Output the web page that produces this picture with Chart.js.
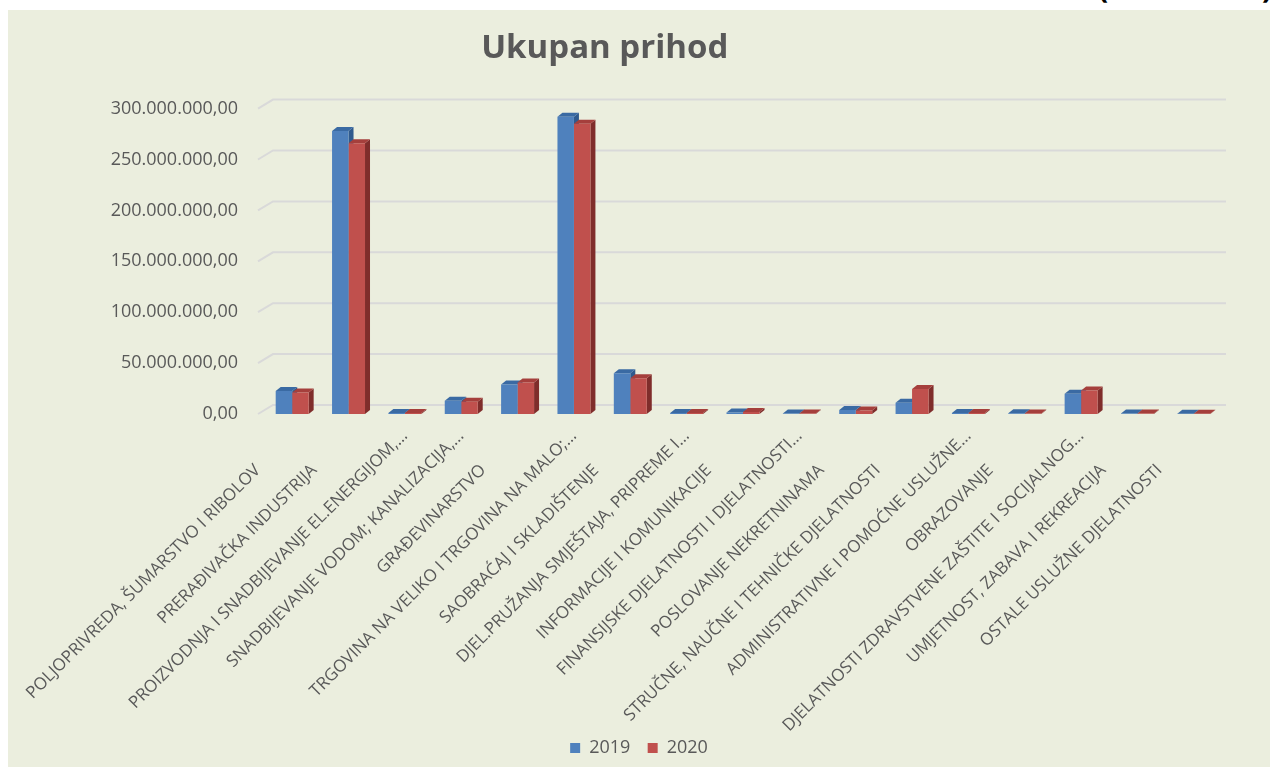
<!DOCTYPE html>
<html>
<head>
<meta charset="utf-8">
<script src="https://cdn.jsdelivr.net/npm/chart.js@4"></script>
<style>
  html,body{margin:0;padding:0;background:#ffffff;width:1270px;height:767px;overflow:hidden;}
  #topnote{position:absolute;top:-34px;left:1098px;width:180px;font:bold 30px "Open Sans",sans-serif;color:#000;z-index:0;}
  #topnote span.r{position:absolute;left:164px;}
  #wrap{position:absolute;left:8px;top:10px;width:1262px;height:757px;background:#EBEEDE;z-index:1;}
</style>
</head>
<body>
<div id="topnote"><span>(</span><span class="r">)</span></div>
<div id="wrap"><canvas id="c"></canvas></div>
<script>
const categories = [
  "POLJOPRIVREDA, ŠUMARSTVO I RIBOLOV",
  "PRERAĐIVAČKA INDUSTRIJA",
  "PROIZVODNJA I SNADBIJEVANJE EL.ENERGIJOM,…",
  "SNADBIJEVANJE VODOM; KANALIZACIJA,…",
  "GRAĐEVINARSTVO",
  "TRGOVINA NA VELIKO I TRGOVINA NA MALO;…",
  "SAOBRAĆAJ I SKLADIŠTENJE",
  "DJEL.PRUŽANJA SMJEŠTAJA, PRIPREME I…",
  "INFORMACIJE I KOMUNIKACIJE",
  "FINANSIJSKE DJELATNOSTI I DJELATNOSTI…",
  "POSLOVANJE NEKRETNINAMA",
  "STRUČNE, NAUČNE I TEHNIČKE DJELATNOSTI",
  "ADMINISTRATIVNE I POMOĆNE USLUŽNE…",
  "OBRAZOVANJE",
  "DJELATNOSTI ZDRAVSTVENE ZAŠTITE I SOCIJALNOG…",
  "UMJETNOST, ZABAVA I REKREACIJA",
  "OSTALE USLUŽNE DJELATNOSTI"
];
const values2019 = [22500000, 278000000, 1000000, 13000000, 29000000, 292000000, 40000000, 1000000, 1500000, 500000, 4000000, 11000000, 1000000, 800000, 20000000, 500000, 300000];
const values2020 = [21000000, 266000000, 1000000, 12000000, 31000000, 285000000, 35000000, 1000000, 2000000, 500000, 3500000, 24500000, 1000000, 600000, 23000000, 500000, 300000];
const seriesNames = ["2019", "2020"];
const yTicks = [0, 50000000, 100000000, 150000000, 200000000, 250000000, 300000000];
const titleText = "Ukupan prihod";

const TXT = '#595959';
const FRONT = ['#4F81BD', '#C0504D'];
const TOP = ['#3A6AA3', '#A53F3C'];
const SIDE = ['#2F5A8E', '#7F2D2B'];
const XFONT = {family: 'Open Sans', size: 17};
const TFONT = {family: 'Open Sans', size: 33, weight: 'bold'};
const LFONT = {family: 'Open Sans', size: 18};

function fmt(v){
  const s = Math.round(v).toString();
  const g = s.replace(/\B(?=(\d{3})+(?!\d))/g, '.');
  return g + ',00';
}

// run-time measured spacing helpers (Excel-like label placement)
const mctx = document.createElement('canvas').getContext('2d');
function spaces(px, font){ mctx.font = font; const w = mctx.measureText(' ').width || 4.5; return ' '.repeat(Math.max(0, Math.round(px / w))); }
const labelPad = spaces(48, XFONT.size + 'px "Open Sans"');
const titlePad = spaces(66, 'bold ' + TFONT.size + 'px "Open Sans"');
const legendPad = spaces(9, LFONT.size + 'px "Open Sans"');

const bar3d = {
  id: 'bar3d',
  beforeDatasetsDraw(chart){
    const ctx = chart.ctx, a = chart.chartArea, ys = chart.scales.y;
    ctx.save();
    ctx.strokeStyle = '#D9D9D9';
    ctx.lineWidth = 2;
    ys.ticks.forEach(t => {
      const y = ys.getPixelForValue(t.value);
      ctx.beginPath();
      ctx.moveTo(a.left - 6, y);
      ctx.lineTo(a.left + 9, y - 9);
      ctx.lineTo(a.right + 4, y - 9);
      ctx.stroke();
    });
    const dx = 5, dy = 4;
    chart.data.datasets.forEach((ds, i) => {
      const meta = chart.getDatasetMeta(i);
      meta.data.forEach(el => {
        const l = el.x - el.width/2, r = el.x + el.width/2, y = el.y, b = el.base;
        ctx.fillStyle = SIDE[i];
        ctx.beginPath();
        ctx.moveTo(r, y); ctx.lineTo(r+dx, y-dy); ctx.lineTo(r+dx, b-dy); ctx.lineTo(r, b);
        ctx.closePath(); ctx.fill();
        ctx.fillStyle = TOP[i];
        ctx.beginPath();
        ctx.moveTo(l, y); ctx.lineTo(l+dx, y-dy); ctx.lineTo(r+dx, y-dy); ctx.lineTo(r, y);
        ctx.closePath(); ctx.fill();
      });
    });
    ctx.restore();
  }
};

new Chart(document.getElementById('c'), {
  type: 'bar',
  data: {
    labels: categories,
    datasets: [
      {label: seriesNames[0], data: values2019, backgroundColor: FRONT[0], borderWidth: 0},
      {label: seriesNames[1], data: values2020, backgroundColor: FRONT[1], borderWidth: 0}
    ]
  },
  options: {
    responsive: true,
    maintainAspectRatio: false,
    animation: false,
    devicePixelRatio: 1,
    layout: {padding: {left: 0, right: 0, top: 0, bottom: 0}},
    datasets: {bar: {barPercentage: 1, categoryPercentage: 0.585}},
    plugins: {
      title: {display: true, text: titleText + titlePad, color: TXT, font: TFONT, padding: {top: 19, bottom: 40}},
      legend: {
        position: 'bottom',
        labels: {
          color: TXT, font: LFONT, boxWidth: 10, boxHeight: 10, padding: 8,
          generateLabels(chart){
            const items = Chart.defaults.plugins.legend.labels.generateLabels(chart);
            items.forEach((it, i) => { it.lineWidth = 0; if (i < items.length - 1) it.text = it.text + legendPad; });
            return items;
          }
        }
      },
      tooltip: {enabled: false}
    },
    scales: {
      x: {
        grid: {display: false, drawTicks: false},
        border: {display: false},
        afterFit(s){ s.height = 317; },
        ticks: {
          color: TXT, font: XFONT, minRotation: 45, maxRotation: 45, autoSkip: false, padding: 12, labelOffset: 0,
          callback(value){ const lab = this.getLabelForValue(value); return lab.endsWith('…') ? lab : lab + labelPad; }
        }
      },
      y: {
        min: 0, max: 300000000,
        afterBuildTicks(s){ s.ticks = yTicks.map(v => ({value: v})); },
        afterFit(s){ s.width = 256; },
        grid: {display: false, drawTicks: false},
        border: {display: false},
        ticks: {color: TXT, font: {family: 'Open Sans', size: 18}, padding: 26, callback: v => fmt(v)}
      },
      yRight: {
        position: 'right',
        display: true,
        afterFit(s){ s.width = 48; },
        grid: {display: false, drawTicks: false},
        border: {display: false},
        ticks: {display: false}
      }
    }
  },
  plugins: [bar3d]
});
</script>
</body>
</html>
